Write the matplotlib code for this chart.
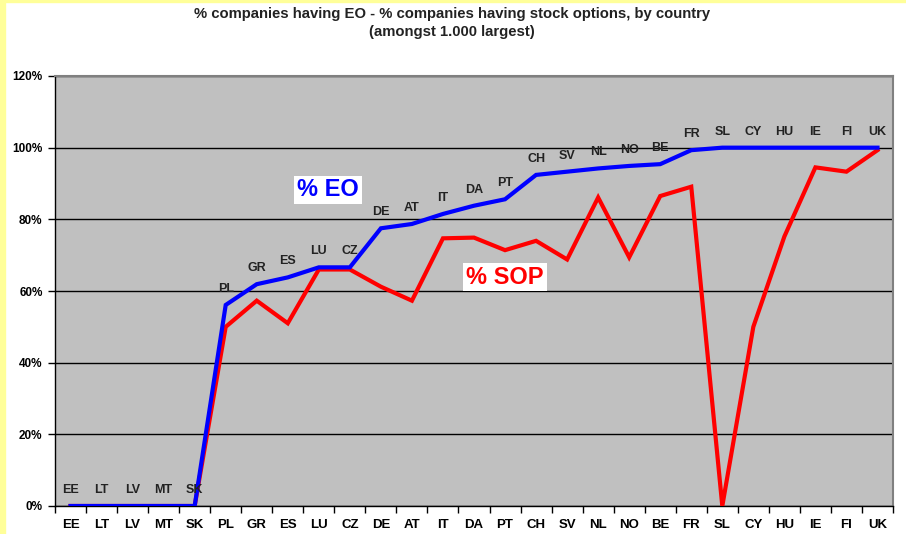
import matplotlib.pyplot as plt
import matplotlib.patches as mpatches
from matplotlib.ticker import FixedLocator, PercentFormatter

plt.rcParams['font.family'] = ['Liberation Sans', 'DejaVu Sans']

countries = ['EE', 'LT', 'LV', 'MT', 'SK', 'PL', 'GR', 'ES', 'LU', 'CZ', 'DE', 'AT', 'IT',
             'DA', 'PT', 'CH', 'SV', 'NL', 'NO', 'BE', 'FR', 'SL', 'CY', 'HU', 'IE', 'FI', 'UK']
pct_eo = [0, 0, 0, 0, 0, 56.1, 61.9, 63.8, 66.6, 66.6, 77.5, 78.7, 81.5,
          83.8, 85.6, 92.4, 93.3, 94.2, 94.9, 95.4, 99.3, 100, 100, 100, 100, 100, 100]
pct_sop = [0, 0, 0, 0, 0, 50.0, 57.3, 51.0, 66.0, 66.0, 61.2, 57.3, 74.7,
           74.9, 71.4, 74.0, 68.8, 86.1, 69.4, 86.5, 89.1, 0, 50.0, 75.2, 94.5, 93.3, 99.3]
y_ticks = [0, 20, 40, 60, 80, 100, 120]

fig = plt.figure(figsize=(9.06, 5.34), dpi=100)
fig.patch.set_facecolor('white')

# yellow frame strips (left and top edge of the original page)
fig.add_artist(mpatches.Rectangle((0, 0), 5 / 906, 1, transform=fig.transFigure,
                                  color='#FFFF99', zorder=0))
fig.add_artist(mpatches.Rectangle((0, 1 - 2 / 534), 1, 2 / 534, transform=fig.transFigure,
                                  color='#FFFF99', zorder=0))

ax = fig.add_axes([55 / 906, 28 / 534, 838 / 906, 430 / 534])
ax.set_facecolor('#C0C0C0')

x = list(range(len(countries)))
ax.plot(x, pct_sop, color='#FF0000', lw=3.0, zorder=3, solid_joinstyle='miter')
ax.plot(x, pct_eo, color='#0000FF', lw=3.0, zorder=4, solid_joinstyle='miter')

# country labels above the EO points
for i, c in enumerate(countries):
    ax.annotate(c, xy=(i, pct_eo[i]), xytext=(0, 11.5), textcoords='offset points',
                ha='center', va='center', fontsize=9, fontweight='bold', color='#222222',
                zorder=5, annotation_clip=False)

ax.text(8.3, 88.2, '% EO', ha='center', va='center', fontsize=17, fontweight='bold',
        color='#0000FF', zorder=6,
        bbox=dict(boxstyle='square,pad=0.12', facecolor='white', edgecolor='none'))
ax.text(14.0, 63.9, '% SOP', ha='center', va='center', fontsize=17, fontweight='bold',
        color='#FF0000', zorder=6,
        bbox=dict(boxstyle='square,pad=0.12', facecolor='white', edgecolor='none'))

ax.set_xlim(-0.5, len(countries) - 0.5)
ax.set_ylim(0, 120)
ax.set_yticks(y_ticks)
ax.yaxis.set_major_formatter(PercentFormatter(decimals=0))
ax.yaxis.grid(True, color='black', lw=1.0)
ax.set_axisbelow(True)

ax.set_xticks(x)
ax.set_xticklabels(countries)
ax.xaxis.set_minor_locator(FixedLocator([i - 0.5 for i in range(len(countries) + 1)]))
ax.tick_params(axis='x', which='major', length=0, pad=9, labelsize=9.5)
ax.tick_params(axis='x', which='minor', length=5, width=1, direction='out')
ax.tick_params(axis='y', length=5, width=1, direction='out', labelsize=8.5, pad=4)
for lab in ax.get_xticklabels() + ax.get_yticklabels():
    lab.set_fontweight('bold')

for side in ['top', 'right']:
    ax.spines[side].set_color('#808080')
    ax.spines[side].set_linewidth(1.5)
for side in ['left', 'bottom']:
    ax.spines[side].set_color('black')
    ax.spines[side].set_linewidth(1.0)

fig.text(452 / 906, 1 - 14 / 534, '% companies having EO - % companies having stock options, by country',
         ha='center', va='center', fontsize=10.7, fontweight='bold', color='#222222')
fig.text(452 / 906, 1 - 32 / 534, '(amongst 1.000 largest)',
         ha='center', va='center', fontsize=10.7, fontweight='bold', color='#222222')

fig.savefig('out.png', dpi=100)
